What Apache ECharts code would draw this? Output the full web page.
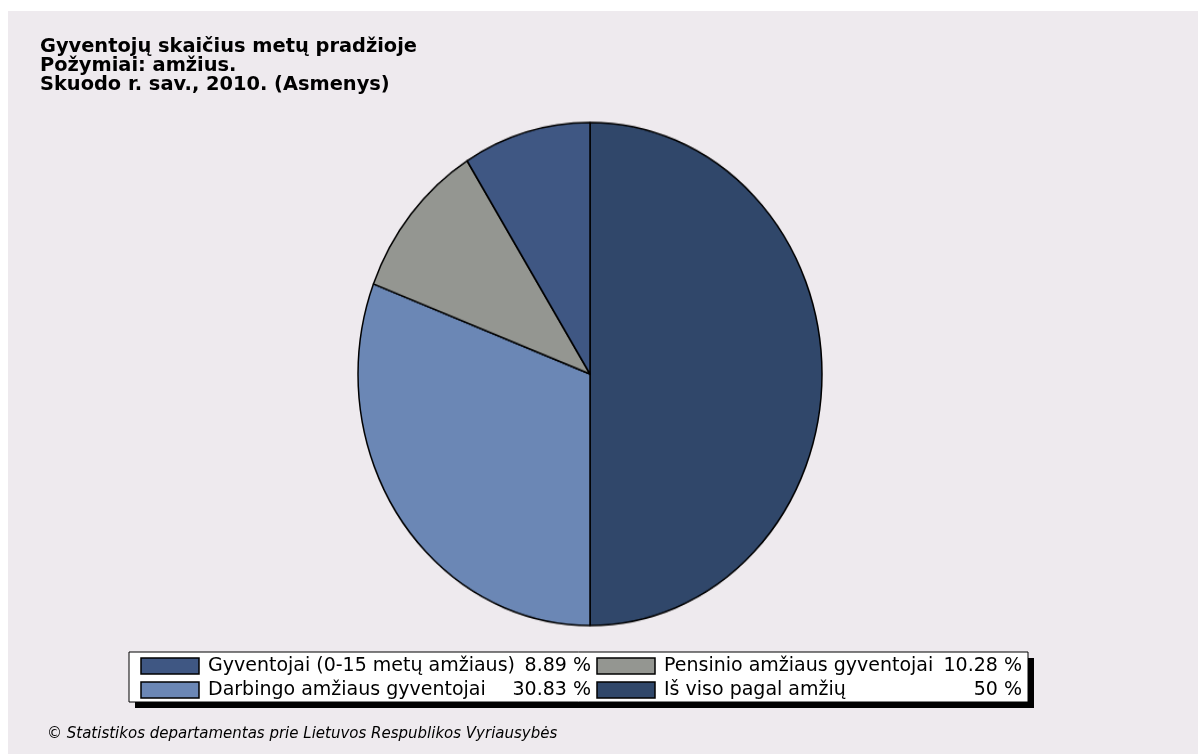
<!DOCTYPE html>
<html>
<head>
<meta charset="utf-8">
<script src="https://cdn.jsdelivr.net/npm/echarts@6/dist/echarts.min.js"></script>
<style>
html,body{margin:0;padding:0;background:#ffffff;width:1198px;height:754px;overflow:hidden;}
#main{position:absolute;left:8px;top:11px;width:1190px;height:743px;}
#pie{position:absolute;left:290px;top:73.5px;width:600px;height:600px;transform:scaleY(1.0841);transform-origin:50% 50%;}
</style>
</head>
<body>
<div id="main"></div>
<div id="pie"></div>
<script>
// ---- data ----
var titleLines = ['Gyventojų skaičius metų pradžioje', 'Požymiai: amžius.', 'Skuodo r. sav., 2010. (Asmenys)'];
var footer = '© Statistikos departamentas prie Lietuvos Respublikos Vyriausybės';
// slice order as drawn clockwise from 12 o'clock
var pieNames = ['Iš viso pagal amžių', 'Darbingo amžiaus gyventojai', 'Pensinio amžiaus gyventojai', 'Gyventojai (0-15 metų amžiaus)'];
var pieValues = [50, 30.83, 10.28, 8.89];
var pieColors = ['#30476a', '#6b87b5', '#949691', '#3f5783'];
// legend order (row-major, 2 columns)
var legendOrder = ['Gyventojai (0-15 metų amžiaus)', 'Pensinio amžiaus gyventojai', 'Darbingo amžiaus gyventojai', 'Iš viso pagal amžių'];

var ox = 8, oy = 11; // main div offset
var bg = '#eeeaee';

var main = echarts.init(document.getElementById('main'), null, {renderer: 'canvas'});
var pie = echarts.init(document.getElementById('pie'), null, {renderer: 'canvas'});

// legend graphics
var legendEls = [];
var boxL = 129 - ox, boxT = 652 - oy, boxW = 899, boxH = 50;
legendEls.push({type: 'rect', shape: {x: boxL + 6, y: boxT + 6, width: boxW, height: boxH}, style: {fill: '#000'}});
legendEls.push({type: 'rect', shape: {x: boxL, y: boxT, width: boxW, height: boxH}, style: {fill: '#ffffff', stroke: '#000', lineWidth: 1}});
var colSwX = [141 - ox, 597 - ox], colTxtX = [208 - ox, 664 - ox], colPctX = [591 - ox, 1022 - ox];
var rowY = [666 - oy, 690 - oy];
var lgFont = '19px "DejaVu Sans", sans-serif';
var total = pieValues.reduce(function (a, b) { return a + b; }, 0);
legendOrder.forEach(function (name, i) {
  var c = i % 2, r = Math.floor(i / 2);
  var idx = pieNames.indexOf(name);
  var pct = Math.round(pieValues[idx] / total * 10000) / 100;
  legendEls.push({type: 'rect', shape: {x: colSwX[c], y: rowY[r] - 8, width: 58, height: 16}, style: {fill: pieColors[idx], stroke: '#000', lineWidth: 1.5}});
  legendEls.push({type: 'text', x: colTxtX[c], y: rowY[r], style: {text: name, fill: '#000', font: lgFont, verticalAlign: 'middle', align: 'left'}});
  legendEls.push({type: 'text', x: colPctX[c], y: rowY[r], style: {text: pct + ' %', fill: '#000', font: lgFont, verticalAlign: 'middle', align: 'right'}});
});

main.setOption({
  backgroundColor: bg,
  animation: false,
  title: {
    text: titleLines.join('\n'),
    left: 40 - ox, top: 37 - oy, padding: 0,
    textStyle: {fontFamily: '"DejaVu Sans", sans-serif', fontWeight: 'bold', fontSize: 19.4, lineHeight: 19, color: '#000'}
  },
  graphic: legendEls.concat([
    {type: 'text', x: 47 - ox, y: 734 - oy, style: {text: footer, fill: '#000', font: 'italic 15px "DejaVu Sans", sans-serif', verticalAlign: 'middle'}}
  ])
});

pie.setOption({
  backgroundColor: 'transparent',
  animation: false,
  series: [{
    type: 'pie',
    center: ['50%', '50%'],
    radius: 232,
    startAngle: 90,
    clockwise: true,
    label: {show: false},
    labelLine: {show: false},
    emphasis: {disabled: true},
    itemStyle: {borderColor: '#000', borderWidth: 1.5},
    data: pieNames.map(function (n, i) { return {name: n, value: pieValues[i], itemStyle: {color: pieColors[i]}}; })
  }]
});
</script>
</body>
</html>
